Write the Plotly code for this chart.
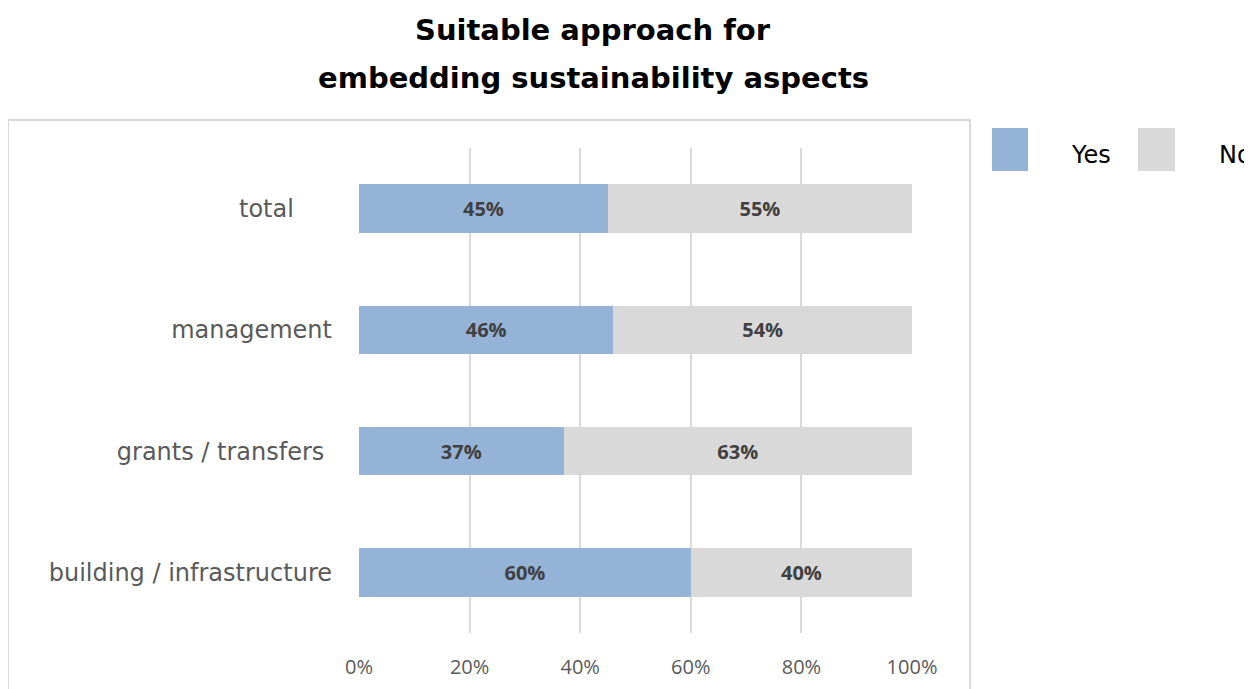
import plotly.graph_objects as go

categories = ["building / infrastructure", "grants / transfers", "management", "total"]
yes_values = [60, 37, 46, 45]
no_values = [40, 63, 54, 55]
series_names = ["Yes", "No"]
series_colors = ["#95B3D7", "#D9D9D9"]
x_ticks = [0, 20, 40, 60, 80, 100]
x_tick_labels = ["0%", "20%", "40%", "60%", "80%", "100%"]
title_lines = ["Suitable approach for", "embedding sustainability aspects"]

# page pixel layout (window 1252x689, page body offset 8px)
OFF = 8
W, H = 1252 - OFF, 689 - OFF
PL, PR, PT, PB = 359, 912, 148, 633  # plot area in page pixels

def px_x(p):
    return (p - PL) / (PR - PL)

def px_y(p):
    return (PB - p) / (PB - PT)

# trailing padding as in the reference's labels
pad = {"total": "\u00a0" * 5, "grants / transfers": "\u00a0", "management": "", "building / infrastructure": ""}
tick_text = [c + pad[c] for c in categories]

fig = go.Figure()
for name, vals, col in zip(series_names, [yes_values, no_values], series_colors):
    fig.add_trace(go.Bar(
        y=categories, x=vals, name=name, orientation="h",
        marker=dict(color=col, line=dict(width=0)),
        text=[f"{v}%" for v in vals], textposition="inside", insidetextanchor="middle",
        textfont=dict(family="Open Sans", size=20, color="#404040", weight="bold"),
        showlegend=False, width=0.4,
    ))

shapes = [
    dict(type="rect", xref="paper", yref="paper",
         x0=px_x(8), x1=px_x(970), y0=px_y(720), y1=px_y(120),
         line=dict(color="#D9D9D9", width=2), fillcolor="rgba(0,0,0,0)", layer="below"),
]
annotations = []
# legend drawn manually
leg_sq = [(992, 1028), (1138, 1175)]
leg_txt = [1069, 1217]
for (x0, x1), tx, name, col in zip(leg_sq, leg_txt, series_names, series_colors):
    shapes.append(dict(type="rect", xref="paper", yref="paper",
                       x0=px_x(x0), x1=px_x(x1), y0=px_y(171), y1=px_y(128),
                       line=dict(width=0), fillcolor=col))
    annotations.append(dict(xref="paper", yref="paper", x=px_x(tx), y=px_y(155),
                            text=name, showarrow=False, xanchor="left", yanchor="middle",
                            font=dict(family="DejaVu Sans", size=24, color="#000000")))
# title
for ty, line in zip([30, 78], title_lines):
    annotations.append(dict(xref="paper", yref="paper", x=px_x(593), y=px_y(ty),
                            text=f"<b>{line}</b>", showarrow=False, xanchor="center", yanchor="middle",
                            font=dict(family="DejaVu Sans", size=29, color="#000000")))

fig.update_layout(
    barmode="stack",
    width=W, height=H,
    margin=dict(l=PL - OFF, r=W - (PR - OFF), t=PT - OFF, b=H - (PB - OFF), pad=0),
    paper_bgcolor="white", plot_bgcolor="white",
    shapes=shapes, annotations=annotations,
    xaxis=dict(range=[0, 100], tickvals=x_ticks, ticktext=x_tick_labels,
               showgrid=True, gridcolor="#D9D9D9", gridwidth=1.5, zeroline=False,
               showline=False, ticks="", ticklabelstandoff=20, automargin=False,
               tickfont=dict(family="Open Sans", size=20, color="#595959")),
    yaxis=dict(categoryorder="array", categoryarray=categories,
               tickvals=categories, ticktext=tick_text, automargin=False,
               showgrid=False, zeroline=False, showline=False, ticks="",
               ticklabelstandoff=26,
               tickfont=dict(family="DejaVu Sans", size=24, color="#595959")),
)

fig.write_html("out.html")
